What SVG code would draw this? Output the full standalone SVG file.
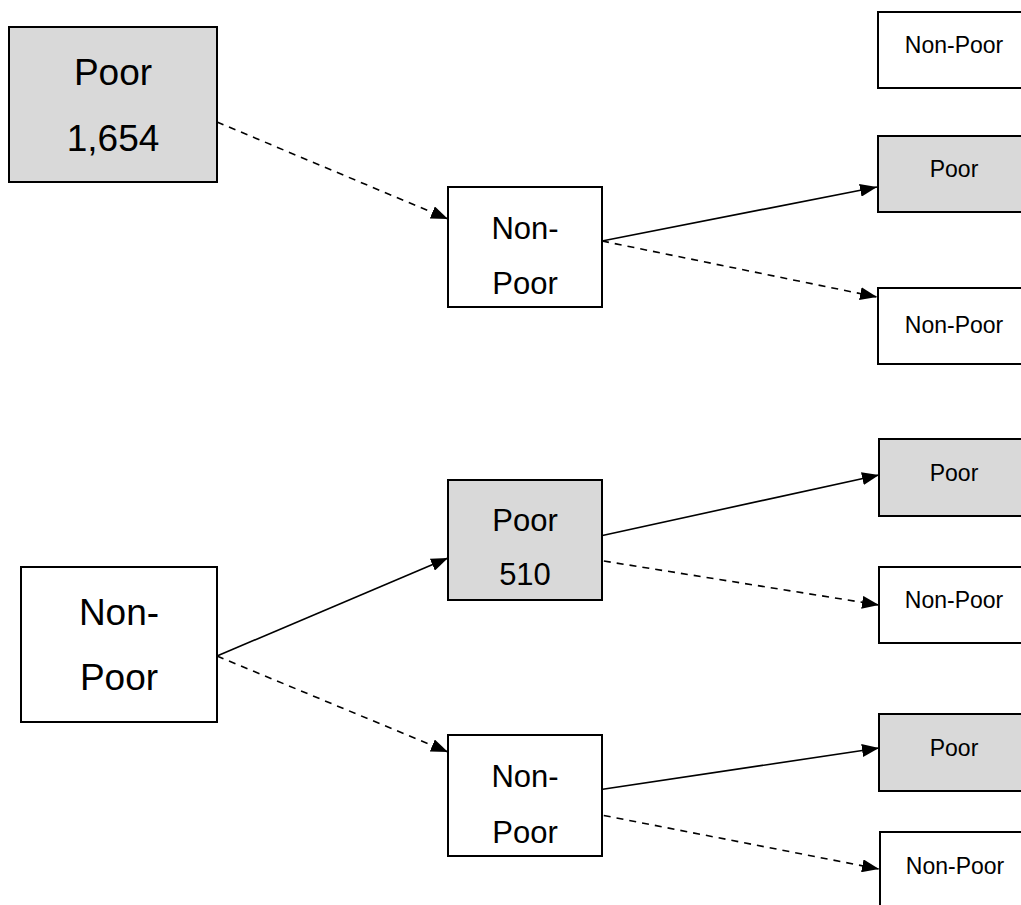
<svg xmlns="http://www.w3.org/2000/svg" width="1021" height="905" viewBox="0 0 1021 905">
<style>
.box{stroke:#000;stroke-width:2}
.poor{fill:#d9d9d9}
.np{fill:#fff}
text{font-family:"Liberation Sans",Arial,sans-serif;fill:#000;text-anchor:middle}
.l{font-size:37px}
.m{font-size:31px}
.s{font-size:23px}
.c{stroke:#000;stroke-width:1.6;fill:none}
.d{stroke-dasharray:7,6}
</style>
<defs>
<marker id="ah" markerUnits="userSpaceOnUse" markerWidth="17" markerHeight="13" refX="17" refY="6.5" orient="auto">
<path d="M0,0 L17,6.5 L0,13 z" fill="#000"/>
</marker>
</defs>
<rect width="1021" height="905" fill="#fff"/>
<g id="connectors">
<line class="c d" x1="217" y1="122" x2="448" y2="219" marker-end="url(#ah)"/>
<line class="c" x1="602" y1="241" x2="877" y2="187" marker-end="url(#ah)"/>
<line class="c d" x1="602" y1="241" x2="877" y2="297" marker-end="url(#ah)"/>
<line class="c" x1="217" y1="656" x2="448" y2="558" marker-end="url(#ah)"/>
<line class="c d" x1="217" y1="656" x2="448" y2="752" marker-end="url(#ah)"/>
<line class="c" x1="591" y1="538" x2="879" y2="475" marker-end="url(#ah)"/>
<line class="c d" x1="591" y1="559" x2="879" y2="605" marker-end="url(#ah)"/>
<line class="c" x1="591" y1="791" x2="879" y2="748" marker-end="url(#ah)"/>
<line class="c d" x1="591" y1="813" x2="879" y2="869" marker-end="url(#ah)"/>
</g>
<g id="n-poor-1654">
<rect class="box poor" x="9" y="27" width="208" height="155"/>
<text class="l" x="113" y="85">Poor</text>
<text class="l" x="113" y="151">1,654</text>
</g>
<g id="n-nonpoor-left">
<rect class="box np" x="21" y="567" width="196" height="155"/>
<text class="l" x="119" y="625">Non-</text>
<text class="l" x="119" y="690">Poor</text>
</g>
<g id="n-mid-1">
<rect class="box np" x="448" y="187" width="154" height="120"/>
<text class="m" x="525" y="239">Non-</text>
<text class="m" x="525" y="294">Poor</text>
</g>
<g id="n-mid-2">
<rect class="box poor" x="448" y="480" width="154" height="120"/>
<text class="m" x="525" y="531">Poor</text>
<text class="m" x="525" y="585">510</text>
</g>
<g id="n-mid-3">
<rect class="box np" x="448" y="735" width="154" height="121"/>
<text class="m" x="525" y="787">Non-</text>
<text class="m" x="525" y="843">Poor</text>
</g>
<g id="n-r1">
<rect class="box np" x="878" y="12" width="155" height="76"/>
<text class="s" x="954" y="53">Non-Poor</text>
</g>
<g id="n-r2">
<rect class="box poor" x="878" y="136" width="155" height="76"/>
<text class="s" x="954" y="177">Poor</text>
</g>
<g id="n-r3">
<rect class="box np" x="878" y="288" width="155" height="76"/>
<text class="s" x="954" y="333">Non-Poor</text>
</g>
<g id="n-r4">
<rect class="box poor" x="879" y="439" width="155" height="77"/>
<text class="s" x="954" y="481">Poor</text>
</g>
<g id="n-r5">
<rect class="box np" x="879" y="567" width="155" height="76"/>
<text class="s" x="954" y="608">Non-Poor</text>
</g>
<g id="n-r6">
<rect class="box poor" x="879" y="714" width="155" height="77"/>
<text class="s" x="954" y="756">Poor</text>
</g>
<g id="n-r7">
<rect class="box np" x="880" y="832" width="155" height="90"/>
<text class="s" x="955" y="874">Non-Poor</text>
</g>
</svg>
